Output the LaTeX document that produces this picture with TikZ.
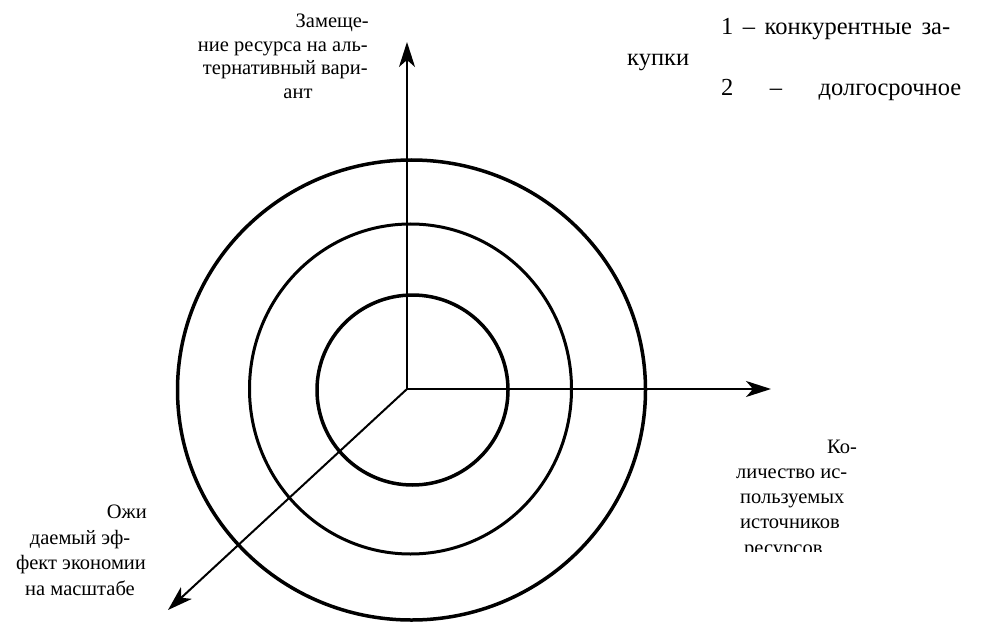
\documentclass[tikz,border=0pt]{standalone}
\usepackage{fontspec}
\setmainfont{Liberation Serif}
\newfontfamily\tnrfont{Liberation Serif}
\usetikzlibrary{arrows.meta}
\begin{document}
\begin{tikzpicture}[x=1pt,y=-1pt,
  axis/.style={line width=2pt,-{Stealth[length=25pt,width=16pt,inset=7pt]}},
  ring/.style={line width=3.5pt},
  lbl/.style={inner sep=0pt,font=\tnrfont\fontsize{20.5}{24}\selectfont},
  body/.style={inner sep=0pt,font=\tnrfont\fontsize{24.5}{31}\selectfont}]
\useasboundingbox[fill=white] (0,0) rectangle (984,628);
% rings
\draw[ring] (412.5,390) ellipse [x radius=95.5pt, y radius=95pt];
\draw[ring,line width=3pt] (410.5,389) ellipse [x radius=161pt, y radius=165pt];
\draw[ring] (411.5,390) ellipse [x radius=234pt, y radius=230pt];
% axes
\coordinate (O) at (407,389);
\coordinate (up) at (407,42);
\coordinate (right) at (771,389);
\coordinate (dl) at (168,610);
\draw[axis] (O) -- (up);
\draw[axis] (O) -- (right);
\draw[axis] (O) -- (dl);
% top label
\node[lbl,anchor=base east] (t1) at (369,28) {Замеще-};
\node[lbl,anchor=base east] (t2) at (368,51.5) {ние ресурса на аль-};
\node[lbl,anchor=base east] (t3) at (368,75) {тернативный вари-};
\node[lbl,anchor=base] (t4) at (298,98.5) {ант};
% left label
\node[lbl,anchor=base east] (l1) at (147,518) {Ожи};
\node[lbl,anchor=base] (l2) at (80,544) {даемый эф-};
\node[lbl,anchor=base] (l3) at (81,569.5) {фект экономии};
\node[lbl,anchor=base] (l4) at (80,595) {на масштабе};
% right label
\node[lbl,anchor=base east] (r1) at (857,453) {Ко-};
\node[lbl,anchor=base west] (r2) at (736,478) {личество ис-};
\node[lbl,anchor=base west] (r3) at (740,503) {пользуемых};
\node[lbl,anchor=base west] (r4) at (740,528) {источников};
\begin{scope}
  \clip (700,530) rectangle (900,551);
  \node[lbl,anchor=base west] (r5) at (744,554) {ресурсов};
\end{scope}
% top-right text
\node[body,anchor=base west] (b1) at (721,35) {\makebox[229pt][s]{1 – конкурентные за-}};
\node[body,anchor=base west] (b2) at (627,66) {купки};
\node[body,anchor=base west] (b3) at (721,96) {\makebox[240pt][s]{2 – долгосрочное}};
\end{tikzpicture}
\end{document}
